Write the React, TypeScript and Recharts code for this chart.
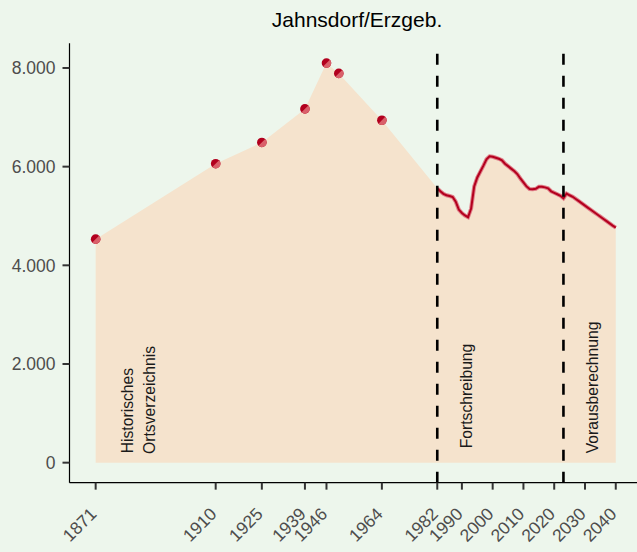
import React from 'react';
import {
  ComposedChart,
  Area,
  Line,
  XAxis,
  YAxis,
  ReferenceLine,
  ReferenceDot,
} from 'recharts';

// Historisches Ortsverzeichnis
const histYears = [1871, 1910, 1925, 1939, 1946, 1950, 1964];
const histValues = [4530, 6060, 6490, 7170, 8100, 7890, 6940];

// Fortschreibung 1982–2023
const fortYears = [
  1982, 1983, 1984, 1985, 1986, 1987, 1988, 1989, 1990, 1991, 1992, 1993, 1994,
  1995, 1996, 1997, 1998, 1999, 2000, 2001, 2002, 2003, 2004, 2005, 2006, 2007,
  2008, 2009, 2010, 2011, 2012, 2013, 2014, 2015, 2016, 2017, 2018, 2019, 2020,
  2021, 2022, 2023,
];
const fortValues = [
  5560, 5500, 5450, 5420, 5405, 5385, 5290, 5130, 5060, 5010, 4975, 5150, 5600,
  5780, 5900, 6020, 6150, 6210, 6200, 6180, 6160, 6130, 6060, 6010, 5960, 5910,
  5850, 5760, 5680, 5600, 5545, 5540, 5550, 5590, 5590, 5580, 5560, 5500, 5470,
  5440, 5410, 5360,
];

// Vorausberechnung 2024–2040
const projYears = [
  2024, 2025, 2026, 2027, 2028, 2029, 2030, 2031, 2032, 2033, 2034, 2035, 2036,
  2037, 2038, 2039, 2040,
];
const projValues = [
  5455, 5420, 5390, 5345, 5300, 5255, 5210, 5165, 5120, 5075, 5030, 4985, 4940,
  4895, 4850, 4805, 4765,
];

const xTicks = [1871, 1910, 1925, 1939, 1946, 1964, 1982, 1990, 2000, 2010, 2020, 2030, 2040];
const yTicks = [0, 2000, 4000, 6000, 8000];
const periodBreaks = [1982, 2023];

const title = 'Jahnsdorf/Erzgeb.';
const annotations = [
  { year: 1883.2, value: 190, text: 'Historisches' },
  { year: 1890.3, value: 176, text: 'Ortsverzeichnis' },
  { year: 1993.4, value: 291, text: 'Fortschreibung' },
  { year: 2034.2, value: 190, text: 'Vorausberechnung' },
];

type Row = { year: number; pop: number; hist?: number; line?: number };

const data: Row[] = [
  ...histYears.map((year, i) => ({ year, pop: histValues[i], hist: histValues[i] })),
  ...fortYears.map((year, i) => ({ year, pop: fortValues[i], line: fortValues[i] })),
  ...projYears.map((year, i) => ({ year, pop: projValues[i], line: projValues[i] })),
];

const FONT = '"Liberation Sans", Arial, Helvetica, sans-serif';
const BG = '#EDF6EC';

const fmt = (v: number) => String(v).replace(/\B(?=(\d{3})+(?!\d))/g, '.');

const HistDot = (props: any) => {
  const { cx, cy } = props;
  if (cx == null || cy == null || props.value == null) return <g />;
  const r = 4.8;
  const d = r * Math.SQRT1_2;
  return (
    <g>
      <circle cx={cx} cy={cy} r={r} fill="#B2001E" />
      <path d={`M${cx + d},${cy - d} A${r},${r} 0 0 1 ${cx - d},${cy + d} Z`} fill="#D9606A" />
    </g>
  );
};

const XTick = (props: any) => {
  const { x, y, payload } = props;
  const tx = x + 2;
  const ty = y + 25.5;
  return (
    <text
      x={tx}
      y={ty}
      transform={`rotate(-45 ${tx} ${ty})`}
      textAnchor="end"
      fill="#4D4D4D"
      fontSize={17.5}
      fontFamily={FONT}
    >
      {payload.value}
    </text>
  );
};

const rotatedLabel = (text: string) => (props: any) => {
  const { x, y } = props.viewBox;
  return (
    <text
      x={x}
      y={y}
      transform={`rotate(-90 ${x} ${y})`}
      textAnchor="start"
      fill="#1A1A1A"
      fontSize={15.7}
      fontFamily={FONT}
    >
      {text}
    </text>
  );
};

export default function App() {
  return (
    <div style={{ position: 'fixed', left: 0, top: 0, width: 637, height: 552, background: BG, overflow: 'hidden' }}>
      <svg width={637} height={40} style={{ position: 'absolute', left: 0, top: 0 }}>
        <text x={357} y={27.3} textAnchor="middle" fontSize={21} fontFamily={FONT} fill="#000">
          {title}
        </text>
      </svg>
      <ComposedChart
        width={637}
        height={552}
        data={data}
        margin={{ top: 43.3, right: 0, bottom: 0, left: 0 }}
        style={{ position: 'absolute', left: 0, top: 0 }}
      >
        <XAxis
          dataKey="year"
          type="number"
          domain={[1862.5, 2046.9]}
          ticks={xTicks}
          interval={0}
          height={69.35}
          tickSize={7}
          tickMargin={0}
          tick={<XTick />}
          axisLine={{ stroke: '#000', strokeWidth: 1.2 }}
          tickLine={{ stroke: '#333', strokeWidth: 2 }}
          allowDataOverflow
        />
        <YAxis
          type="number"
          domain={[-405, 8500]}
          ticks={yTicks}
          width={69.5}
          tickSize={7}
          tickMargin={7}
          tickFormatter={fmt}
          tick={{ fill: '#4D4D4D', fontSize: 17.5, fontFamily: FONT }}
          axisLine={{ stroke: '#000', strokeWidth: 1.2 }}
          tickLine={{ stroke: '#333', strokeWidth: 2 }}
          allowDataOverflow
        />
        <Area
          type="linear"
          dataKey="pop"
          fill="#F5E3CD"
          fillOpacity={1}
          stroke="none"
          baseValue={0}
          isAnimationActive={false}
          activeDot={false}
        />
        <Line
          type="linear"
          dataKey="line"
          stroke="#E07F89"
          strokeWidth={4}
          dot={false}
          activeDot={false}
          isAnimationActive={false}
        />
        <Line
          type="linear"
          dataKey="line"
          stroke="#B3001E"
          strokeWidth={2}
          dot={false}
          activeDot={false}
          isAnimationActive={false}
        />
        <Line
          type="linear"
          dataKey="hist"
          stroke="none"
          dot={<HistDot />}
          activeDot={false}
          isAnimationActive={false}
        />
        {periodBreaks.map((yr) => (
          <ReferenceLine key={yr} x={yr} stroke="#000" strokeWidth={2.6} strokeDasharray="11 11" />
        ))}
        {annotations.map((a) => (
          <ReferenceDot
            key={a.text}
            x={a.year}
            y={a.value}
            r={0}
            fill="none"
            stroke="none"
            label={{ content: rotatedLabel(a.text) }}
          />
        ))}
      </ComposedChart>
    </div>
  );
}
